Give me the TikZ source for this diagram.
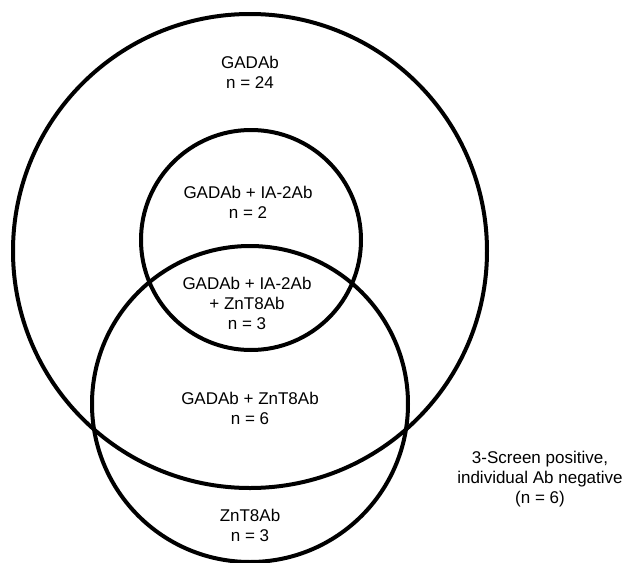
\documentclass[tikz,border=0pt]{standalone}
\usepackage{fontspec}
\setmainfont{Liberation Sans}
\begin{document}
\begin{tikzpicture}[x=1pt,y=-1pt,
  ring/.style={circle,draw=black,line width=4pt,inner sep=0pt,fill=none},
  lbl/.style={align=center,inner sep=0pt,font=\fontsize{17}{20}\selectfont}]
\useasboundingbox (0,0) rectangle (625,563);
\node[ring,minimum size=474pt] (gad) at (250,251) {};
\node[ring,minimum size=220pt] (ia2) at (251,240) {};
\node[ring,minimum size=316pt] (znt) at (250,404) {};
\node[lbl] (tgad) at (250,72) {GADAb\\n = 24};
\node[lbl] (tgi) at (248,202) {GADAb + IA-2Ab\\n = 2};
\node[lbl] (tgiz) at (247,303) {GADAb + IA-2Ab\\+ ZnT8Ab\\n = 3};
\node[lbl] (tgz) at (250,408) {GADAb + ZnT8Ab\\n = 6};
\node[lbl] (tz) at (250,525) {ZnT8Ab\\n = 3};
\node[lbl] (tneg) at (540,479) {3-Screen positive,\\individual Ab negative\\(n = 6)};
\end{tikzpicture}
\end{document}
